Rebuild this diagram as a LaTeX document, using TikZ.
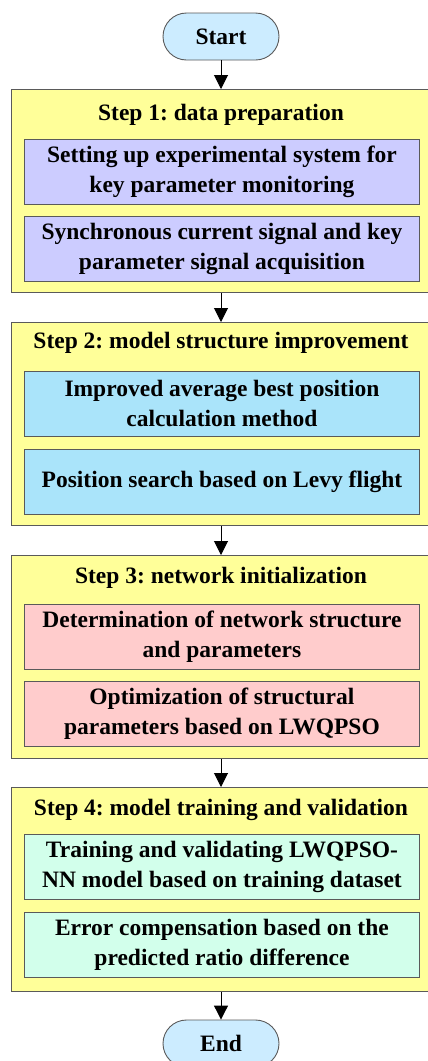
\documentclass[tikz,border=0pt]{standalone}
\usepackage{fontspec}
\setmainfont{Liberation Serif}
\usetikzlibrary{shapes.misc,arrows.meta}
\frenchspacing
\definecolor{outerfill}{RGB}{255,255,153}
\definecolor{edgegray}{RGB}{90,90,90}
\definecolor{termfill}{RGB}{204,236,255}
\definecolor{lavfill}{RGB}{204,204,255}
\definecolor{bluefill}{RGB}{170,228,250}
\definecolor{pinkfill}{RGB}{255,204,204}
\definecolor{mintfill}{RGB}{210,255,235}
\tikzset{
  txt/.style={font=\bfseries\fontsize{23.5}{30}\selectfont, align=center, inner sep=0pt},
  outerbox/.style={draw=edgegray, fill=outerfill, line width=1pt, minimum width=440pt, anchor=north west, inner sep=0pt},
  innerbox/.style={draw=edgegray, line width=0.9pt, minimum width=395pt, minimum height=65pt, anchor=north west, inner sep=0pt},
  term/.style={rounded rectangle, draw=edgegray, fill=termfill, line width=0.9pt, minimum width=116pt, minimum height=47pt, inner sep=0pt, font=\bfseries\fontsize{23.5}{30}\selectfont},
  arr/.style={line width=1pt, -{Triangle[width=14pt,length=14pt]}}
}
\begin{document}
\begin{tikzpicture}[x=1pt,y=1pt]
\useasboundingbox (0,0) rectangle (428,-1061);
\clip (0,0) rectangle (428,-1061);
\fill[white] (0,0) rectangle (428,-1061);
% terminals
\node[term] (start) at (221,-36.5) {Start};
\node[term] (end) at (221,-1043.5) {End};
% step 1
\node[outerbox, minimum height=203pt] (s1) at (11,-89) {};
\node[txt] (t1) at (221,-115) {Step 1: data preparation};
\node[innerbox, fill=lavfill] (b11) at (24,-139) {};
\node[txt] at (b11.center) {Setting up experimental system for\\key parameter monitoring};
\node[innerbox, fill=lavfill] (b12) at (24,-216) {};
\node[txt] at (b12.center) {Synchronous current signal and key\\parameter signal acquisition};
% step 2
\node[outerbox, minimum height=203pt] (s2) at (11,-322) {};
\node[txt] (t2) at (221,-343) {Step 2: model structure improvement};
\node[innerbox, fill=bluefill] (b21) at (24,-371) {};
\node[txt] at (b21.center) {Improved average best position\\calculation method};
\node[innerbox, fill=bluefill] (b22) at (24,-449) {};
\node[txt] at (b22.center) {Position search based on Levy flight};
% step 3
\node[outerbox, minimum height=203pt] (s3) at (11,-555) {};
\node[txt] (t3) at (221,-578) {Step 3: network initialization};
\node[innerbox, fill=pinkfill] (b31) at (24,-604) {};
\node[txt] at (b31.center) {Determination of network structure\\and parameters};
\node[innerbox, fill=pinkfill] (b32) at (24,-681) {};
\node[txt] at (b32.center) {Optimization of structural\\parameters based on LWQPSO};
% step 4
\node[outerbox, minimum height=204pt] (s4) at (11,-787) {};
\node[txt] (t4) at (221,-810) {Step 4: model training and validation};
\node[innerbox, fill=mintfill] (b41) at (24,-834) {};
\node[txt] at (b41.center) {Training and validating LWQPSO-\\NN model based on training dataset};
\node[innerbox, fill=mintfill] (b42) at (24,-912) {};
\node[txt] at (b42.center) {Error compensation based on the\\predicted ratio difference};
% arrows
\draw[arr] (start.south) -- (start.south |- s1.north);
\draw[arr] (start.south |- s1.south) -- (start.south |- s2.north);
\draw[arr] (start.south |- s2.south) -- (start.south |- s3.north);
\draw[arr] (start.south |- s3.south) -- (start.south |- s4.north);
\draw[arr] (start.south |- s4.south) -- (end.north);
\end{tikzpicture}
\end{document}
